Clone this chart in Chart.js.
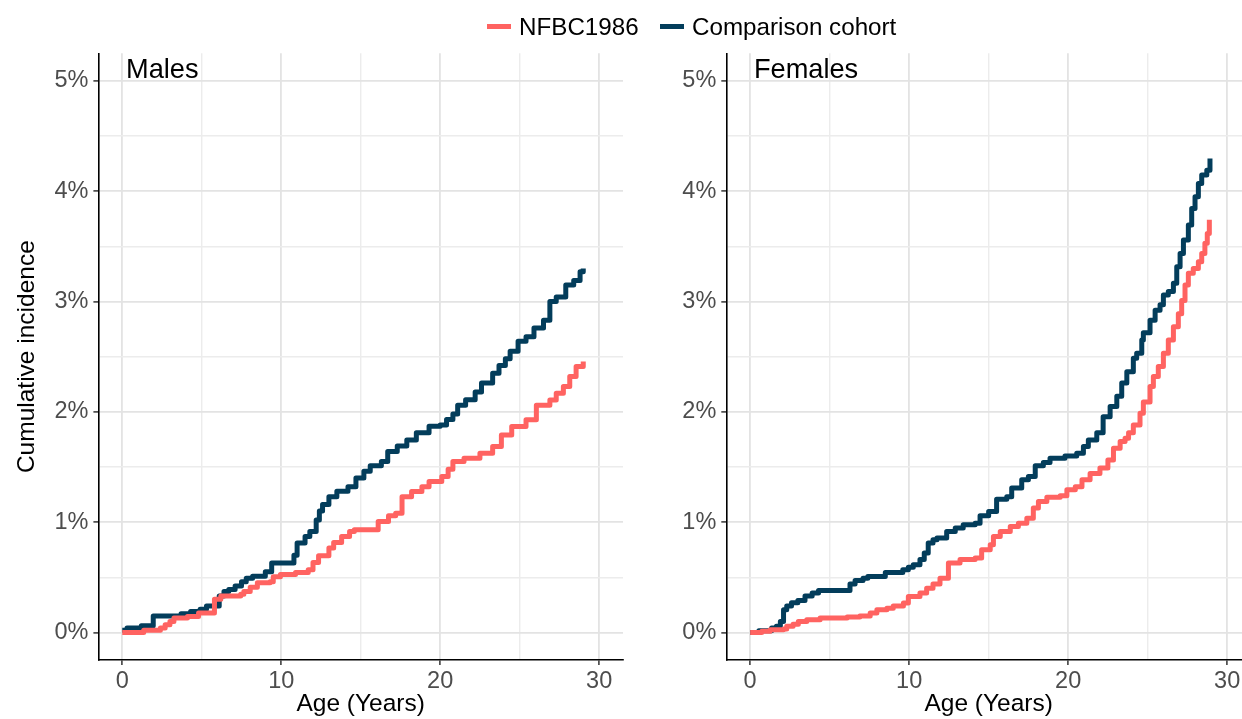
<!DOCTYPE html>
<html>
<head>
<meta charset="utf-8">
<script src="https://cdn.jsdelivr.net/npm/chart.js@4.4.1/dist/chart.umd.min.js"></script>
<style>
html,body{margin:0;padding:0;background:#fff;overflow:hidden;width:1242px;height:719px;position:relative;font-family:"Liberation Sans",Arial,sans-serif}
#wrapL{position:absolute;left:0;top:0;width:640px;height:719px}
#wrapR{position:absolute;left:630px;top:0;width:640px;height:719px}
.sw{position:absolute;height:5px;top:24px;width:24px}
.lt{position:absolute;top:12px;font-size:24.2px;line-height:30px;color:#000;white-space:nowrap}
</style>
</head>
<body>
<div id="wrapL"><canvas id="males" width="640" height="719"></canvas></div>
<div id="wrapR"><canvas id="females" width="640" height="719"></canvas></div>
<div id="legend"></div>
<script>
// ---------- data (cumulative incidence, %) ----------
const seriesNames = ['NFBC1986', 'Comparison cohort'];
const seriesColors = ['#FF6361', '#033D5B'];
const panelNames = ['Males', 'Females'];

const xMajorTicks = [0, 10, 20, 30];
const xMinorTicks = [5, 15, 25];
const yMajorTicks = [0, 1, 2, 3, 4, 5];
const yMinorTicks = [0.5, 1.5, 2.5, 3.5, 4.5];

// Males - NFBC1986
const malesNfbcAge = [0, 1.35, 2.4, 2.7, 3.0, 3.25, 4.1, 4.8, 5.8, 6.2, 7.45, 7.65, 8.05, 8.5, 9.3, 9.5, 9.95, 10.9, 11.7, 12.0, 12.35, 13.0, 13.3, 13.8, 14.3, 14.6, 16.1, 16.75, 17.2, 17.6, 18.2, 18.85, 19.3, 20.1, 20.5, 20.8, 21.5, 22.5, 23.3, 23.85, 24.5, 25.4, 26.05, 26.9, 27.3, 27.75, 28.15, 28.55, 29.0];
const malesNfbcPct = [0, 0.02, 0.04, 0.07, 0.10, 0.13, 0.145, 0.175, 0.30, 0.33, 0.345, 0.37, 0.41, 0.45, 0.46, 0.505, 0.525, 0.543, 0.568, 0.634, 0.695, 0.765, 0.815, 0.87, 0.915, 0.93, 1.005, 1.057, 1.08, 1.23, 1.277, 1.32, 1.368, 1.413, 1.48, 1.55, 1.58, 1.625, 1.685, 1.79, 1.866, 1.927, 2.06, 2.108, 2.168, 2.23, 2.32, 2.41, 2.455];

// Males - Comparison cohort
const malesCompAge = [0, 0.3, 1.2, 1.95, 3.7, 4.3, 4.9, 5.3, 6.1, 6.4, 6.7, 7.1, 7.5, 7.8, 8.2, 9.0, 9.4, 10.8, 11.0, 11.5, 11.8, 12.2, 12.4, 12.6, 13.0, 13.5, 14.2, 14.7, 15.2, 15.6, 16.3, 16.7, 17.3, 17.9, 18.5, 19.3, 20.0, 20.4, 20.8, 21.1, 21.6, 22.2, 22.6, 23.3, 23.7, 24.1, 24.4, 24.9, 25.4, 25.9, 26.5, 26.9, 27.3, 27.9, 28.4, 28.8, 29.0];
const malesCompPct = [0.02, 0.04, 0.06, 0.15, 0.17, 0.19, 0.21, 0.24, 0.33, 0.37, 0.39, 0.42, 0.46, 0.49, 0.51, 0.55, 0.63, 0.70, 0.81, 0.87, 0.915, 1.02, 1.10, 1.16, 1.23, 1.28, 1.32, 1.40, 1.46, 1.51, 1.55, 1.64, 1.69, 1.745, 1.81, 1.87, 1.88, 1.93, 1.98, 2.06, 2.11, 2.18, 2.26, 2.35, 2.42, 2.48, 2.55, 2.64, 2.68, 2.76, 2.83, 3.0, 3.04, 3.15, 3.19, 3.27, 3.30];

// Females - NFBC1986
const femalesNfbcAge = [0, 0.73, 1.26, 2.1, 2.3, 2.7, 3.03, 3.56, 4.4, 6.1, 6.9, 7.55, 7.97, 8.6, 9.0, 9.64, 9.95, 10.68, 11.1, 11.5, 11.94, 12.47, 13.2, 14.15, 14.56, 15.1, 15.3, 15.73, 16.36, 16.87, 17.4, 17.81, 18.13, 18.66, 19.5, 19.92, 20.45, 20.87, 21.38, 22.0, 22.5, 22.85, 23.27, 23.58, 23.8, 24.1, 24.52, 24.73, 25.15, 25.36, 25.67, 25.99, 26.3, 26.62, 26.93, 27.14, 27.35, 27.56, 27.87, 28.19, 28.4, 28.6, 28.75, 28.88];
const femalesNfbcPct = [0, 0.01, 0.025, 0.03, 0.055, 0.075, 0.10, 0.115, 0.13, 0.14, 0.15, 0.175, 0.205, 0.22, 0.24, 0.266, 0.326, 0.357, 0.40, 0.44, 0.49, 0.63, 0.66, 0.675, 0.75, 0.795, 0.87, 0.915, 0.96, 0.99, 1.036, 1.127, 1.187, 1.226, 1.24, 1.293, 1.32, 1.383, 1.44, 1.49, 1.564, 1.67, 1.73, 1.76, 1.81, 1.88, 1.987, 2.09, 2.23, 2.32, 2.41, 2.53, 2.65, 2.77, 2.89, 3.01, 3.15, 3.255, 3.3, 3.36, 3.436, 3.527, 3.617, 3.74];

// Females - Comparison cohort
const femalesCompAge = [0, 0.55, 1.35, 1.65, 1.9, 2.1, 2.3, 2.6, 3.0, 3.45, 3.9, 4.3, 6.28, 6.6, 7.1, 7.4, 8.5, 9.6, 9.95, 10.26, 10.68, 10.95, 11.2, 11.5, 11.75, 12.36, 12.9, 13.4, 14.15, 14.46, 15.0, 15.5, 16.14, 16.45, 17.08, 17.5, 17.93, 18.44, 18.86, 19.8, 20.54, 20.96, 21.27, 21.8, 22.2, 22.64, 23.06, 23.37, 23.69, 24.1, 24.31, 24.63, 24.73, 25.15, 25.47, 25.78, 25.99, 26.3, 26.62, 26.83, 27.04, 27.25, 27.56, 27.77, 27.98, 28.19, 28.4, 28.72, 28.92];
const femalesCompPct = [0, 0.015, 0.04, 0.055, 0.10, 0.205, 0.24, 0.27, 0.29, 0.33, 0.357, 0.38, 0.44, 0.47, 0.49, 0.507, 0.543, 0.568, 0.59, 0.613, 0.66, 0.72, 0.81, 0.84, 0.855, 0.915, 0.946, 0.976, 0.99, 1.057, 1.096, 1.208, 1.23, 1.31, 1.383, 1.413, 1.51, 1.54, 1.58, 1.60, 1.625, 1.685, 1.745, 1.81, 1.956, 2.047, 2.14, 2.26, 2.364, 2.485, 2.53, 2.65, 2.717, 2.83, 2.92, 2.97, 3.06, 3.09, 3.165, 3.315, 3.436, 3.557, 3.693, 3.844, 3.95, 4.07, 4.146, 4.19, 4.297];

// ---------- legend ----------
const FONT = '"Liberation Sans", Arial, sans-serif';
const legendEl = document.getElementById('legend');
const legendPos = [{sw: 487, tx: 519}, {sw: 660, tx: 692}];
seriesNames.forEach((name, i) => {
  const sw = document.createElement('div');
  sw.className = 'sw';
  sw.style.left = legendPos[i].sw + 'px';
  sw.style.background = seriesColors[i];
  legendEl.appendChild(sw);
  const t = document.createElement('div');
  t.className = 'lt';
  t.style.left = legendPos[i].tx + 'px';
  t.textContent = name;
  legendEl.appendChild(t);
});

// ---------- charts ----------
const toPts = (xs, ys) => xs.map((x, i) => ({x: x, y: ys[i]}));

const panelTitlePlugin = {
  id: 'panelTitle',
  afterDraw(chart, args, opts) {
    const {ctx, chartArea} = chart;
    ctx.save();
    ctx.font = '27.2px ' + FONT;
    ctx.fillStyle = '#000';
    ctx.textAlign = 'left';
    ctx.textBaseline = 'alphabetic';
    ctx.fillText(opts.text, chartArea.left + 27.6, chartArea.top + 25);
    ctx.restore();
  }
};

function makeChart(id, title, nAge, nPct, cAge, cPct, cfg) {
  const isXMajor = v => xMajorTicks.includes(v);
  const isYMajor = v => yMajorTicks.includes(v);
  return new Chart(document.getElementById(id), {
    type: 'line',
    data: {
      datasets: [
        {label: seriesNames[0], data: toPts(nAge, nPct), borderColor: seriesColors[0], backgroundColor: seriesColors[0]},
        {label: seriesNames[1], data: toPts(cAge, cPct), borderColor: seriesColors[1], backgroundColor: seriesColors[1]}
      ]
    },
    plugins: [panelTitlePlugin],
    options: {
      responsive: false,
      animation: false,
      parsing: false,
      datasets: {line: {stepped: 'before', borderWidth: 5, pointRadius: 0, fill: false, borderJoinStyle: 'round', borderCapStyle: 'butt'}},
      layout: {padding: {left: cfg.padLeft, right: cfg.padRight, top: 53.3, bottom: 0}},
      plugins: {
        legend: {display: false},
        tooltip: {enabled: false},
        panelTitle: {text: title}
      },
      scales: {
        x: {
          type: 'linear',
          min: -1.5, max: 31.5,
          afterBuildTicks: s => { s.ticks = xMajorTicks.concat(xMinorTicks).sort((a, b) => a - b).map(v => ({value: v})); },
          afterFit: s => { s.height = 59; },
          ticks: {
            autoSkip: false, maxRotation: 0, padding: 2,
            color: '#4D4D4D', font: {family: FONT, size: 23.5},
            callback: v => isXMajor(v) ? String(v) : ''
          },
          grid: {
            color: c => isXMajor(c.tick.value) ? '#E3E3E3' : '#ECECEC',
            lineWidth: c => isXMajor(c.tick.value) ? 1.8 : 1.4,
            tickLength: 5,
            tickColor: c => isXMajor(c.tick.value) ? '#333333' : 'rgba(0,0,0,0)',
            tickWidth: 1.5
          },
          border: {display: true, color: '#000', width: 1.6},
          title: {display: true, text: 'Age (Years)', color: '#000', font: {family: FONT, size: 24.5}, padding: {top: 0, bottom: 0}}
        },
        y: {
          type: 'linear',
          min: -0.25, max: 5.25,
          afterBuildTicks: s => { s.ticks = yMajorTicks.concat(yMinorTicks).sort((a, b) => a - b).map(v => ({value: v})); },
          afterFit: s => { s.width = cfg.yWidth; },
          ticks: {
            autoSkip: false, padding: 5,
            color: '#4D4D4D', font: {family: FONT, size: 23.5},
            callback: v => isYMajor(v) ? v + '%' : ''
          },
          grid: {
            color: c => isYMajor(c.tick.value) ? '#E3E3E3' : '#ECECEC',
            lineWidth: c => isYMajor(c.tick.value) ? 1.8 : 1.4,
            tickLength: 5,
            tickColor: c => isYMajor(c.tick.value) ? '#333333' : 'rgba(0,0,0,0)',
            tickWidth: 1.5
          },
          border: {display: true, color: '#000', width: 1.6},
          title: {display: cfg.yTitle, text: 'Cumulative incidence', color: '#000', font: {family: FONT, size: 24.5}, padding: {top: 0, bottom: 0}}
        }
      }
    }
  });
}

makeChart('males', panelNames[0], malesNfbcAge, malesNfbcPct, malesCompAge, malesCompPct,
  {padLeft: 12.5, padRight: 17, yWidth: 85.9, yTitle: true});
makeChart('females', panelNames[1], femalesNfbcAge, femalesNfbcPct, femalesCompAge, femalesCompPct,
  {padLeft: 11, padRight: 19, yWidth: 85.3, yTitle: false});
</script>
</body>
</html>
